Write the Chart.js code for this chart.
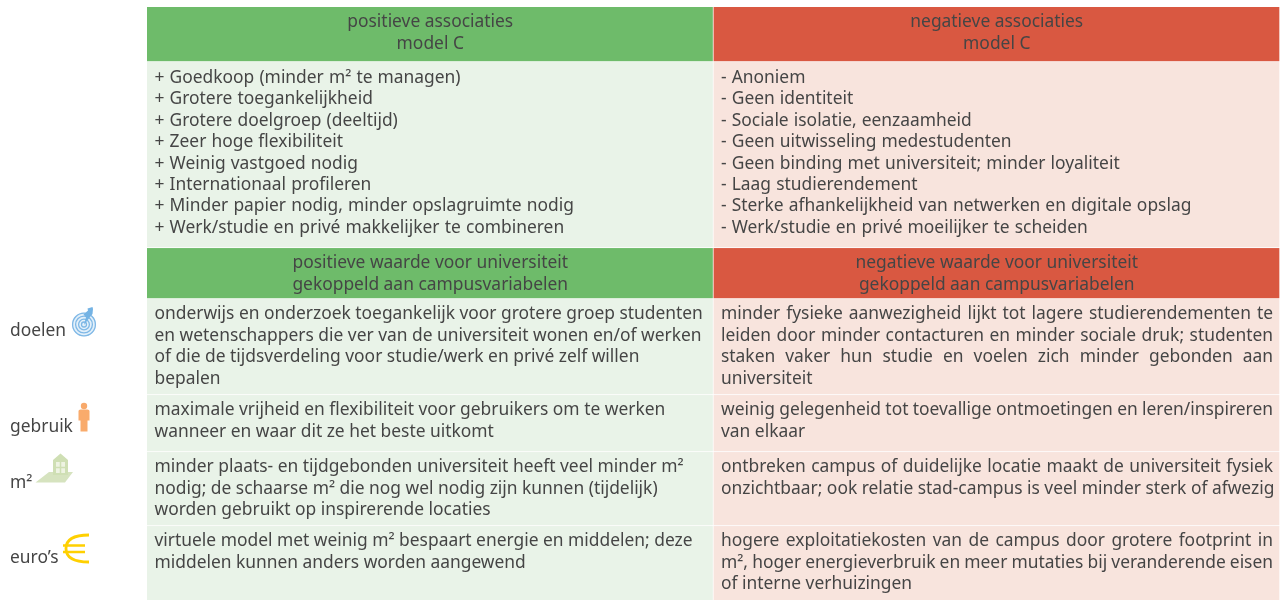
<!DOCTYPE html>
<html lang="nl">
<head>
<meta charset="utf-8">
<title>Associaties model C</title>
<script src="https://cdn.jsdelivr.net/npm/chart.js@4"></script>
<style>
html,body{margin:0;padding:0;background:#fff;overflow:hidden}
#wrap{position:relative;width:1288px;height:600px}
canvas{display:block}
svg.icon{position:absolute;overflow:visible}
</style>
</head>
<body>
<div id="wrap">
<canvas id="c" width="1288" height="600"></canvas>
<svg class="icon" style="left:0;top:0" width="1288" height="600" viewBox="0 0 1288 600" fill="none">
  <!-- doelen -->
  <circle cx="84" cy="324.5" r="12" fill="#e3f0fa"/>
  <g stroke="#7fb8e6" stroke-width="1.3">
    <circle cx="84" cy="324.5" r="11.4"/><circle cx="84" cy="324.5" r="8.4"/><circle cx="84" cy="324.5" r="5.4"/><circle cx="84" cy="324.5" r="2.5"/>
  </g>
  <path d="M84 325 L86 317 L83.5 314.5 L88 310.5 L87.5 308.5 L92.5 307 L93 309 L92.5 314 L90 317 Z" fill="#74b3e4"/>
  <!-- gebruik -->
  <circle cx="84" cy="406" r="3.2" fill="#f8a96a"/>
  <path d="M78.5 411 Q78.5 409.5 80.5 409.5 H87.5 Q89.5 409.5 89.5 411 V420.5 H87.5 V431.5 H80.5 V420.5 H78.5 Z" fill="#f9ab6c"/>
  <!-- m2 -->
  <path d="M35.5 482.5 L49 472 H73 L65 482.5 Z" fill="#d6e3bf"/>
  <path d="M53 475 V460 L60.5 453.5 L68 460 V475 Z" fill="#cfdfb4"/>
  <path d="M56 462 H65 V473 H56 Z" fill="#eef3e2"/>
  <path d="M60.5 462 V473 M56 467.5 H65" stroke="#cfdfb4" stroke-width="1.5"/>
  <!-- euro -->
  <path d="M89 535 Q66 535 66 548.5 Q66 562 89 562" stroke="#ffd000" stroke-width="2.8"/>
  <path d="M63 545.5 H85 M63 552 H85" stroke="#ffd000" stroke-width="2.4"/>
</svg>
</div>
<script>
const columns = ["positief", "negatief"];
const rowNames = ["marge", "kop 1", "associaties", "kop 2", "doelen", "gebruik", "m2", "euro"];
const rowHeights = [7, 55, 186, 51, 96, 57, 74, 74];
const rowKinds = ["none", "head", "body", "head", "body", "body", "body", "body"];
const fillsPositive = { none: "rgba(0,0,0,0)", head: "#6EBB6A", body: "#E9F3E8" };
const fillsNegative = { none: "rgba(0,0,0,0)", head: "#D95841", body: "#F8E4DD" };

const textPositive = [
  [],
  ["positieve associaties", "model C"],
  ["+ Goedkoop (minder m² te managen)", "+ Grotere toegankelijkheid", "+ Grotere doelgroep (deeltijd)", "+ Zeer hoge flexibiliteit", "+ Weinig vastgoed nodig", "+ Internationaal profileren", "+ Minder papier nodig, minder opslagruimte nodig", "+ Werk/studie en privé makkelijker te combineren"],
  ["positieve waarde voor universiteit", "gekoppeld aan campusvariabelen"],
  ["onderwijs en onderzoek toegankelijk voor grotere groep studenten", "en wetenschappers die ver van de universiteit wonen en/of werken", "of die de tijdsverdeling voor studie/werk en privé zelf willen", "bepalen"],
  ["maximale vrijheid en flexibiliteit voor gebruikers om te werken", "wanneer en waar dit ze het beste uitkomt"],
  ["minder plaats- en tijdgebonden universiteit heeft veel minder m²", "nodig; de schaarse m² die nog wel nodig zijn kunnen (tijdelijk)", "worden gebruikt op inspirerende locaties"],
  ["virtuele model met weinig m² bespaart energie en middelen; deze", "middelen kunnen anders worden aangewend"]
];
const textNegative = [
  [],
  ["negatieve associaties", "model C"],
  ["- Anoniem", "- Geen identiteit", "- Sociale isolatie, eenzaamheid", "- Geen uitwisseling medestudenten", "- Geen binding met universiteit; minder loyaliteit", "- Laag studierendement", "- Sterke afhankelijkheid van netwerken en digitale opslag", "- Werk/studie en privé moeilijker te scheiden"],
  ["negatieve waarde voor universiteit", "gekoppeld aan campusvariabelen"],
  ["minder fysieke aanwezigheid lijkt tot lagere studierendementen te", "leiden door minder contacturen en minder sociale druk; studenten", "staken vaker hun studie en voelen zich minder gebonden aan", "universiteit"],
  ["weinig gelegenheid tot toevallige ontmoetingen en leren/inspireren", "van elkaar"],
  ["ontbreken campus of duidelijke locatie maakt de universiteit fysiek", "onzichtbaar; ook relatie stad-campus is veel minder sterk of afwezig"],
  ["hogere exploitatiekosten van de campus door grotere footprint in", "m², hoger energieverbruik en meer mutaties bij veranderende eisen", "of interne verhuizingen"]
];
const sideLabels = [
  { row: 4, text: "doelen", offset: 32 },
  { row: 5, text: "gebruik", offset: 32 },
  { row: 6, text: "m²", offset: 31 },
  { row: 7, text: "euro’s", offset: 32 }
];

const FONT = '17.4px "Noto Sans"';
const TRACK = "0px";
const INK = "#454545";
const LINE = 21.4, FIRST = 15.4, PAD = 7.5, CELL_R = 7;
const LIST_ROW = 2, LIST_SHIFT = 0.7, LIST_WORD = "0.6px";

const tablePlugin = {
  id: "tableText",
  afterDatasetsDraw(chart) {
    const { ctx, scales: { x, y } } = chart;
    const half = (x.getPixelForValue(1) - x.getPixelForValue(0)) / 2;
    ctx.save();
    ctx.font = FONT;
    ctx.fillStyle = INK;
    ctx.letterSpacing = TRACK;
    ctx.textBaseline = "middle";
    let top = 0;
    rowHeights.forEach((h, r) => {
      const yTop = y.getPixelForValue(top);
      [textPositive, textNegative].forEach((col, c) => {
        const mid = x.getPixelForValue(c);
        col[r].forEach((line, i) => {
          const py = yTop + FIRST + i * LINE + (r === LIST_ROW ? LIST_SHIFT : 0);
          if (rowKinds[r] === "head") {
            ctx.textAlign = "center";
            ctx.wordSpacing = "0px";
            ctx.fillText(line, mid, py);
          } else {
            ctx.textAlign = "left";
            const left = mid - half + PAD;
            ctx.wordSpacing = r === LIST_ROW ? LIST_WORD : "0px";
            // right column of the lower rows is justified
            if (c === 1 && r >= 4 && i < col[r].length - 1 && line.length > 40) {
              const w = ctx.measureText(line).width;
              const gaps = line.split(" ").length - 1;
              ctx.wordSpacing = ((mid + half - CELL_R - left - w) / gaps) + "px";
            }
            ctx.fillText(line, left, py);
          }
        });
      });
      top += h;
    });
    ctx.wordSpacing = "0px";
    ctx.textAlign = "left";
    sideLabels.forEach(l => {
      let t = 0;
      for (let i = 0; i < l.row; i++) t += rowHeights[i];
      ctx.fillText(l.text, 10, y.getPixelForValue(t) + l.offset);
    });
    ctx.restore();
  }
};

new Chart(document.getElementById("c"), {
  type: "bar",
  data: {
    labels: columns,
    datasets: rowNames.map((name, r) => ({
      label: name,
      data: columns.map(() => rowHeights[r]),
      backgroundColor: [fillsPositive[rowKinds[r]], fillsNegative[rowKinds[r]]],
      borderColor: r === 0 ? "rgba(0,0,0,0)" : "#ffffff",
      borderWidth: { top: 0, left: 0, right: 1, bottom: r === rowNames.length - 1 ? 0 : 1 },
      borderSkipped: false,
      barPercentage: 1,
      categoryPercentage: 1,
      stack: "t"
    }))
  },
  plugins: [tablePlugin],
  options: {
    responsive: false,
    animation: false,
    events: [],
    layout: { padding: { left: 147, right: 8, top: 0, bottom: 0 } },
    plugins: { legend: { display: false }, title: { display: false }, tooltip: { enabled: false } },
    scales: {
      x: { stacked: true, display: false, offset: true, grid: { display: false } },
      y: { stacked: true, display: false, reverse: true, min: 0, max: 600, grid: { display: false } }
    }
  }
});
</script>
</body>
</html>
